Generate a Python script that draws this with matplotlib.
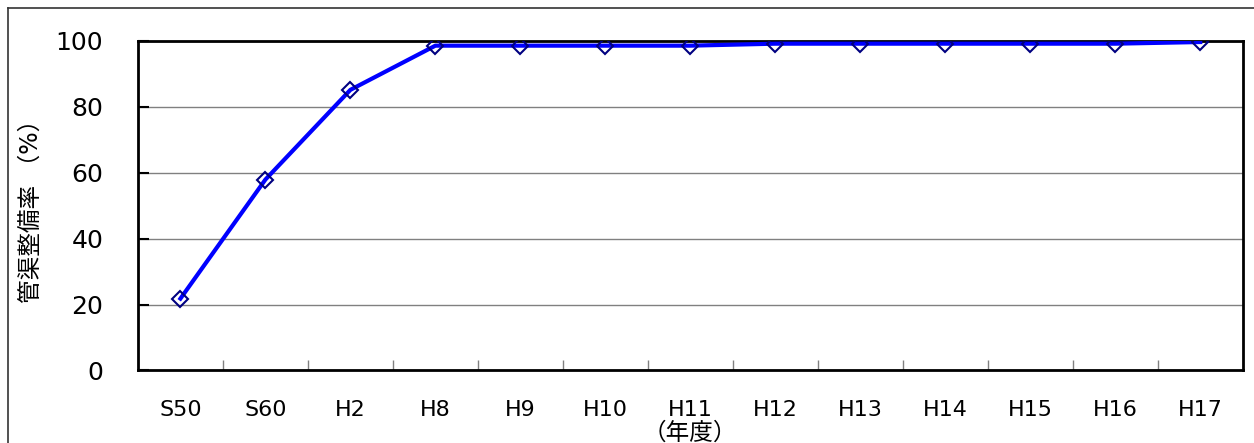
import numpy as np
import matplotlib.pyplot as plt
from matplotlib.lines import Line2D

plt.rcParams['font.family'] = ['DejaVu Sans', 'Noto Sans CJK JP']

# 年度別の管渠整備率
years = ['S50', 'S60', 'H2', 'H8', 'H9', 'H10', 'H11',
         'H12', 'H13', 'H14', 'H15', 'H16', 'H17']
rate = [21.8, 57.9, 85.1, 98.5, 98.5, 98.5, 98.5,
        99.1, 99.1, 99.1, 99.1, 99.1, 99.6]

fig = plt.figure(figsize=(12.54, 4.43), dpi=100)
ax = fig.add_axes([0.110, 0.1637, 0.881, 0.7444])

x = np.arange(len(years))
ax.plot(x, rate, color='#0000FF', lw=3, marker='D', markersize=8,
        markerfacecolor='none', markeredgecolor='#000080', markeredgewidth=1.5,
        zorder=3)

ax.set_xlim(-0.5, len(years) - 0.5)
ax.set_ylim(0, 100)
ax.set_yticks(range(0, 101, 20))
ax.yaxis.grid(True, color='#808080', lw=1)
ax.set_axisbelow(True)

# 目盛は区切り位置に内向き
ax.set_xticks(np.arange(0.5, len(years) - 1, 1))
ax.set_xticklabels([])
ax.tick_params(axis='x', direction='in', length=7, color='#808080', width=1)
for i, lab in enumerate(years):
    ax.text(i, -12, lab, ha='center', va='center', fontsize=16,
            transform=ax.transData, clip_on=False)
ax.tick_params(axis='y', direction='in', length=8, width=1.5,
               labelsize=18, pad=25)

for sp in ax.spines.values():
    sp.set_linewidth(2)
    sp.set_color('black')

ax.set_ylabel('管渠整備率 （%）', fontsize=17)
ax.yaxis.set_label_coords(-0.086, 0.5)
ax.text(0.5, -0.19, '（年度）', ha='center', va='center', fontsize=17,
        transform=ax.transAxes)

# 外枠
fx = 8 / 1254
fy = 1 - 8 / 443
fig.add_artist(Line2D([fx, fx], [0, fy], color='#333333', lw=1.2))
fig.add_artist(Line2D([fx, 1], [fy, fy], color='#333333', lw=1.2))

fig.savefig('out.png', dpi=100)
